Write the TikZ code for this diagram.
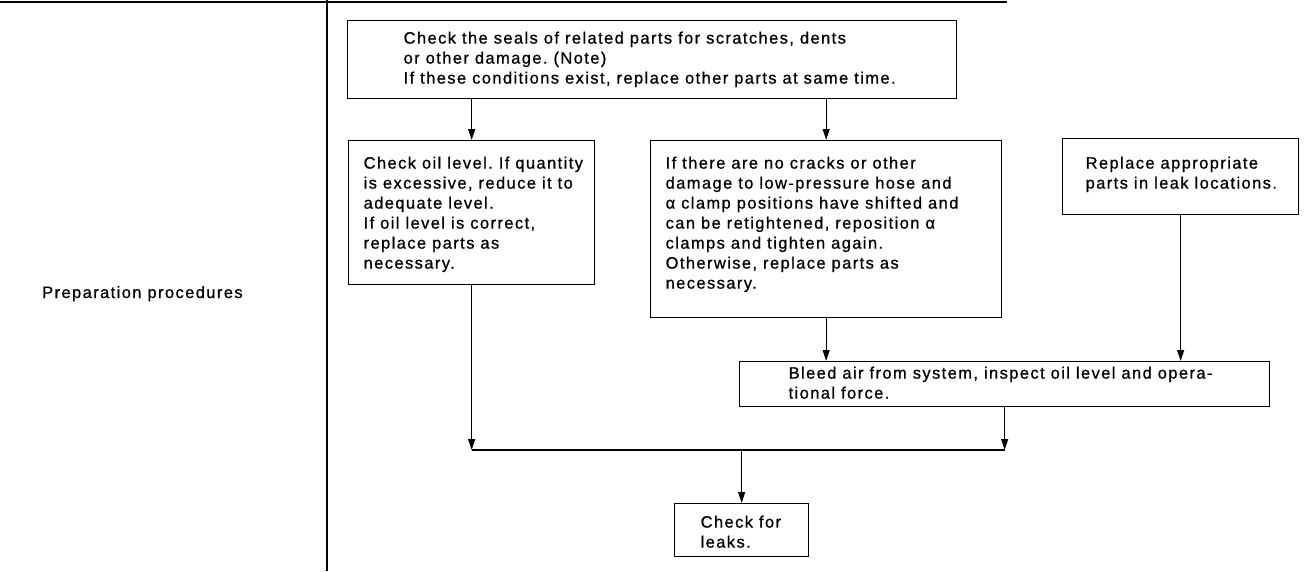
\documentclass[tikz,border=0pt]{standalone}
\usepackage{fontspec}
\setmainfont{Liberation Sans}[LetterSpace=8.5, FakeBold=0.8]
\usepackage{tikz}
\usetikzlibrary{arrows.meta}
\frenchspacing

% box body: width, height, left pad, top pad, lines
\newcommand{\flowtext}[5]{\parbox[c][#2pt][t]{#1pt}{\vspace*{#4pt}\leftskip=#3pt\relax #5\par}}

\begin{document}
\begin{tikzpicture}[x=1pt, y=-1pt,
every node/.style = {font=\fontsize{16.5}{20}\selectfont, inner sep=0pt},
proc/.style = {draw, line width=1.3pt, anchor=north west},
flow/.style = {draw, line width=1.1pt, -{Triangle[length=11pt,width=7pt]}},
rule/.style = {line width=1.8pt}
                    ]
\useasboundingbox (0,0) rectangle (1307,571);
% table frame
\draw[rule] (0,2) -- (1007,2);
\draw[rule] (327,0) -- (327,571);
\node[anchor=base west] (prep) at (42,298) {Preparation procedures};
%
\node[proc] (seal) at (347,20) {\flowtext{609}{78}{56}{11}{Check the seals of related parts for scratches, dents\\
    or other damage. (Note)\\
    If these conditions exist, replace other parts at same time.}};
\node[proc] (oil) at (348,140) {\flowtext{246}{144}{15}{16}{Check oil level. If quantity\\
    is excessive, reduce it to\\
    adequate level.\\
    If oil level is correct,\\
    replace parts as\\
    necessary.}};
\node[proc] (clamp) at (650,140) {\flowtext{351}{177}{15}{16}{If there are no cracks or other\\
    damage to low-pressure hose and\\
    α clamp positions have shifted and\\
    can be retightened, reposition α\\
    clamps and tighten again.\\
    Otherwise, replace parts as\\
    necessary.}};
\node[proc] (leak) at (1062,138) {\flowtext{236}{76}{23}{18}{Replace appropriate\\
    parts in leak locations.}};
\node[proc] (bleed) at (739,361) {\flowtext{530}{45}{49}{5}{Bleed air from system, inspect oil level and opera-\\
    tional force.}};
\node[proc] (check) at (674,503) {\flowtext{134}{53}{26}{12}{Check for\\
    leaks.}};
%
\coordinate (merge) at (0,450);
\coordinate (jl) at (oil.south |- merge);
\coordinate (jr) at (bleed.south |- merge);
\coordinate (jm) at (check.north |- merge);
\draw[flow] (seal.south -| oil.north) -- (oil.north);
\draw[flow] (seal.south -| clamp.north) -- (clamp.north);
\draw[flow] (clamp.south) -- (clamp.south |- bleed.north);
\draw[flow] (leak.south) -- (leak.south |- bleed.north);
\draw[flow] (oil.south) -- (jl);
\draw[flow] (bleed.south) -- (jr);
\draw[line width=1.1pt] (jl) -- (jr);
\draw[flow] (jm) -- (check.north);
\end{tikzpicture}
\end{document}
